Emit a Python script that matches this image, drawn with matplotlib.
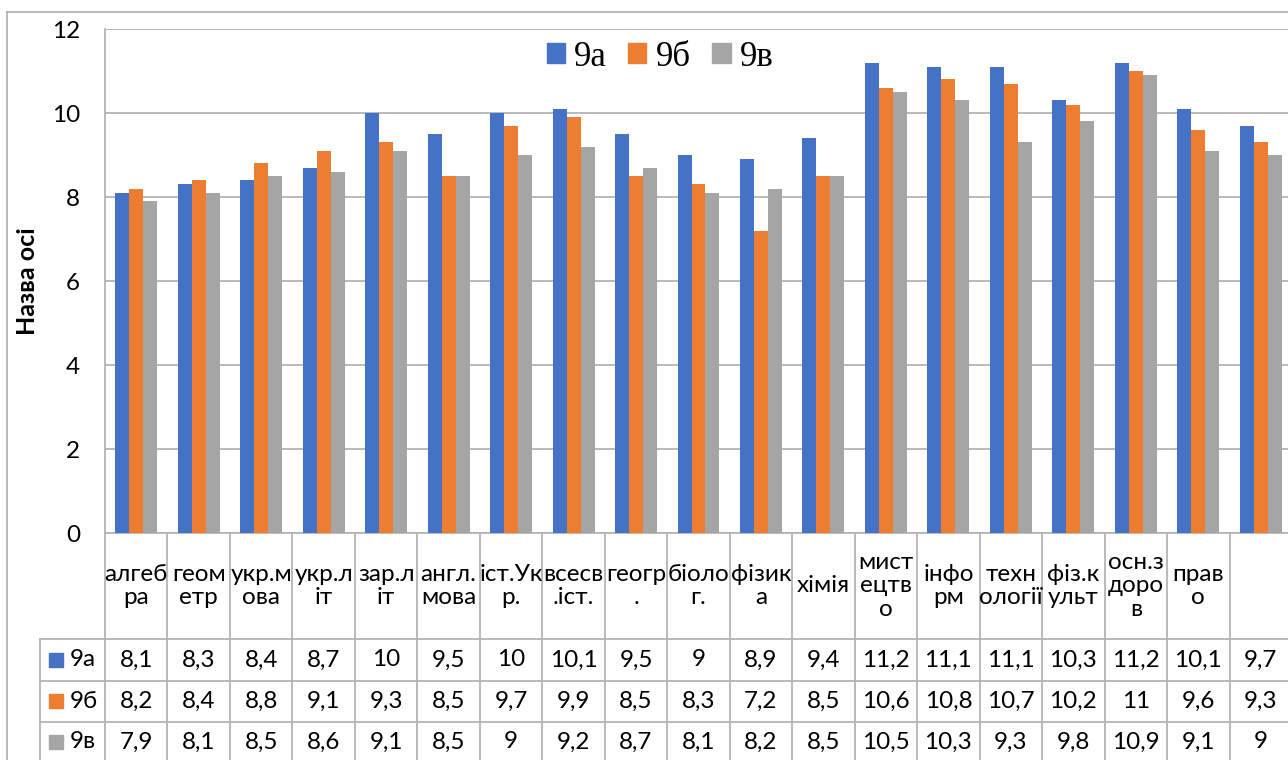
import matplotlib
matplotlib.use("Agg")
import matplotlib.pyplot as plt
import matplotlib.transforms as mtransforms
from matplotlib.lines import Line2D
from matplotlib.patches import Patch
import numpy as np

plt.rcParams['font.family'] = ['Lato', 'DejaVu Sans']

# data
subjects = ["алгеб\nра", "геом\nетр", "укр.м\nова", "укр.л\nіт", "зар.л\nіт",
            "англ.\nмова", "іст.Ук\nр.", "всесв\n.іст.", "геогр\n.", "біоло\nг.",
            "фізик\nа", "хімія", "мист\nецтв\nо", "інфо\nрм", "техн\nології",
            "фіз.к\nульт", "осн.з\nдоро\nв", "прав\nо", ""]
cls_a = [8.1, 8.3, 8.4, 8.7, 10, 9.5, 10, 10.1, 9.5, 9, 8.9, 9.4, 11.2, 11.1, 11.1, 10.3, 11.2, 10.1, 9.7]
cls_b = [8.2, 8.4, 8.8, 9.1, 9.3, 8.5, 9.7, 9.9, 8.5, 8.3, 7.2, 8.5, 10.6, 10.8, 10.7, 10.2, 11, 9.6, 9.3]
cls_v = [7.9, 8.1, 8.5, 8.6, 9.1, 8.5, 9, 9.2, 8.7, 8.1, 8.2, 8.5, 10.5, 10.3, 9.3, 9.8, 10.9, 9.1, 9]
series_names = ["9а", "9б", "9в"]
colors = ["#4472C4", "#ED7D31", "#A5A5A5"]

W, H = 1288, 760
fig = plt.figure(figsize=(W / 100, H / 100), dpi=100)
ax = fig.add_axes([105 / W, 1 - 533 / H, (1292 - 105) / W, (533 - 29) / H])

line_c = "#b4b4b4"
fs = 17.5

x = np.arange(len(subjects))
bw = 0.224
for k, (vals, c) in enumerate(zip([cls_a, cls_b, cls_v], colors)):
    ax.bar(x + (k - 1) * bw, vals, width=bw, color=c, zorder=3)

ax.set_xlim(-0.5, len(subjects) - 0.5)
ax.set_ylim(0, 12)
ax.set_yticks(range(0, 13, 2))
ax.set_xticks([])
ax.tick_params(axis='y', length=0, pad=18, labelsize=fs)
ax.yaxis.grid(True, color=line_c, linewidth=1.3, zorder=0)
for s in ["top", "right", "bottom"]:
    ax.spines[s].set_visible(False)
ax.spines["left"].set_color(line_c)
ax.spines["left"].set_linewidth(1.3)
ax.set_ylabel("Назва осі", fontsize=18, fontweight="bold")
ax.yaxis.set_label_coords(-(105 - 39) / (1292 - 105), 0.5)

# data table under the chart
def fy(p):
    return 1 - p / H

trans = mtransforms.blended_transform_factory(ax.transData, fig.transFigure)
n = len(subjects)
for i in range(n + 1):
    ax.plot([i - 0.5, i - 0.5], [fy(533), fy(770)], color=line_c, lw=1.3,
            transform=trans, clip_on=False)
ax.plot([-0.5, n], [fy(533), fy(533)], color=line_c, lw=1.3, transform=trans, clip_on=False)
for yy in [639, 681, 722]:
    fig.add_artist(Line2D([40 / W, 1.0], [fy(yy), fy(yy)], color=line_c, lw=1.3))
fig.add_artist(Line2D([40 / W, 40 / W], [fy(639), 0], color=line_c, lw=1.3))

for i, lab in enumerate(subjects):
    ax.text(i, fy(586), lab, transform=trans, ha="center", va="center",
            fontsize=fs, linespacing=1.15)

row_y = [660, 701, 742]
for vals, ry in zip([cls_a, cls_b, cls_v], row_y):
    for i, v in enumerate(vals):
        txt = ("%g" % v).replace(".", ",")
        ax.text(i, fy(ry), txt, transform=trans, ha="center", va="center", fontsize=fs)

for name, c, ry in zip(series_names, colors, row_y):
    fig.add_artist(plt.Rectangle((49 / W, fy(ry + 7)), 14 / W, 14 / H,
                                 transform=fig.transFigure, color=c))
    fig.text(70 / W, fy(ry), name, ha="left", va="center", fontsize=fs)

# outer chart border
fig.add_artist(Line2D([7 / W, 7 / W], [fy(12), 0], color=line_c, lw=1.3))
fig.add_artist(Line2D([7 / W, 1.0], [fy(12), fy(12)], color=line_c, lw=1.3))

handles = [Patch(color=c) for c in colors]
fig.legend(handles, series_names, loc="center", bbox_to_anchor=(660 / W, fy(57)),
           frameon=False, ncol=3, prop={"family": "Liberation Serif", "size": 25},
           handlelength=0.52, handleheight=0.52, handletextpad=0.26, columnspacing=0.63)

fig.savefig("out.png", dpi=100)
